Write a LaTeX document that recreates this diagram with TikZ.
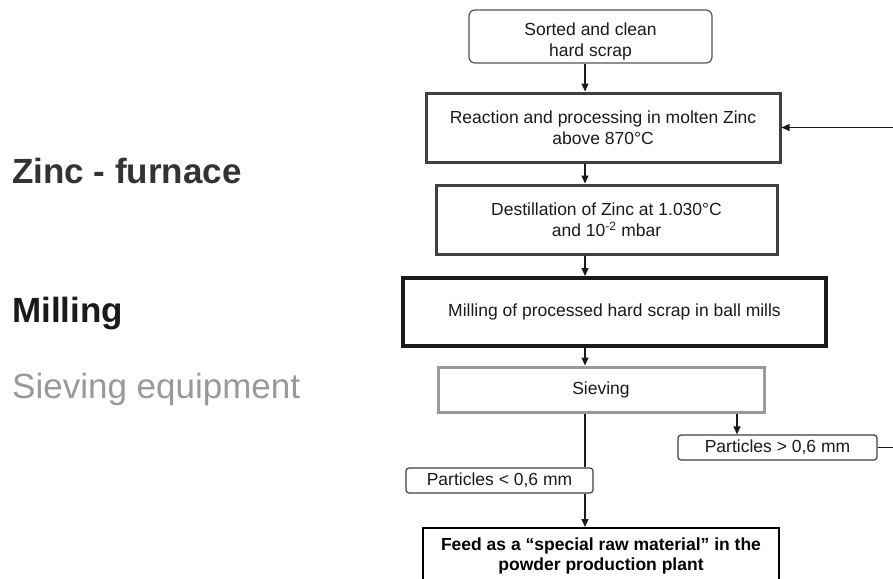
\documentclass[tikz,border=0pt]{standalone}
\usepackage{fontspec}
\setmainfont{Liberation Sans}
\usetikzlibrary{arrows.meta}

\definecolor{inkdark}{HTML}{1A1A1A}
\definecolor{framedark}{HTML}{404040}
\definecolor{framesoft}{HTML}{555555}
\definecolor{framegray}{HTML}{9A9A9A}
\definecolor{labeldark}{HTML}{333333}
\definecolor{labelgray}{HTML}{999999}

\tikzset{
  box/.style={rectangle, draw, align=center, inner sep=0pt, text=inkdark,
    font=\fontsize{17.5}{21}\selectfont},
  startbox/.style={box, draw=framesoft, line width=1.2pt, rounded corners=6pt},
  stagebox/.style={box, draw=framedark, line width=3pt},
  millbox/.style={box, draw=inkdark, line width=4pt},
  sievebox/.style={box, draw=framegray, line width=3pt},
  sizebox/.style={box, draw=framedark, line width=1.2pt, rounded corners=3pt},
  feedbox/.style={box, draw=black, line width=1.5pt, text=black,
    font=\bfseries\fontsize{17.5}{20}\selectfont},
  sidelabel/.style={anchor=base west, inner sep=0pt,
    font=\bfseries\fontsize{35}{42}\selectfont},
  flow/.style={draw=inkdark, line width=1.3pt},
  arr/.style={flow, -{Triangle[length=8pt,width=7pt]}}
}

\begin{document}
\begin{tikzpicture}[x=1pt,y=-1pt]
  \useasboundingbox (0,0) rectangle (893,578);
  \clip (0,0) rectangle (893,578);

  % stage labels on the left
  \node[sidelabel, text=labeldark] (lzinc) at (12,183) {Zinc - furnace};
  \node[sidelabel, text=inkdark] (lmill) at (12,322) {Milling};
  \node[sidelabel, text=labelgray, font=\fontsize{35}{42}\selectfont] (lsieve) at (12,398) {Sieving equipment};

  % guide lines for the vertical flow
  \coordinate (axis) at (585,0);
  \coordinate (split) at (737,0);
  \coordinate (ret) at (905,0);

  % process boxes
  \node[startbox, minimum width=243, minimum height=53] (scrap) at (590.5,36.5)
    {\rule{0pt}{23pt}Sorted and clean\\hard scrap};
  \node[stagebox, minimum width=354, minimum height=69] (react) at (603,127.5)
    {Reaction and processing in molten Zinc\\above 870°C};
  \node[stagebox, minimum width=341, minimum height=69] (dist) at (606.5,219.5)
    {\rule{0pt}{14pt}Destillation of Zinc at 1.030°C\\and 10\textsuperscript{\fontsize{12}{12}\selectfont -2} mbar};
  \node[millbox, minimum width=423, minimum height=68] (mill) at (614.5,312)
    {Milling of processed hard scrap in ball mills};
  \node[sievebox, minimum width=326, minimum height=45] (sieve) at (601,389.5)
    {Sieving};
  \node[sizebox, minimum width=187, minimum height=25] (fine) at (499.5,480.5)
    {Particles < 0,6 mm};
  \node[sizebox, minimum width=199, minimum height=25] (coarse) at (777.5,447.5)
    {Particles > 0,6 mm};
  \node[feedbox, anchor=north, minimum width=356, inner ysep=10pt, text depth=40pt] (feed) at (601,527)
    {Feed as a “special raw material” in the\\powder production plant};

  % connectors
  \draw[arr] (scrap.south -| axis) -- (react.north -| axis);
  \draw[arr] (react.south -| axis) -- (dist.north -| axis);
  \draw[arr] (dist.south -| axis) -- (mill.north -| axis);
  \draw[arr] (mill.south -| axis) -- (sieve.north -| axis);
  \draw[flow] (sieve.south -| axis) -- (fine.north -| axis);
  \draw[arr] (fine.south -| axis) -- (feed.north -| axis);
  \draw[arr] (sieve.south -| split) -- (coarse.north -| split);
  \draw[arr] (coarse.east) -- (coarse.east -| ret) |- (react.east);
\end{tikzpicture}
\end{document}
